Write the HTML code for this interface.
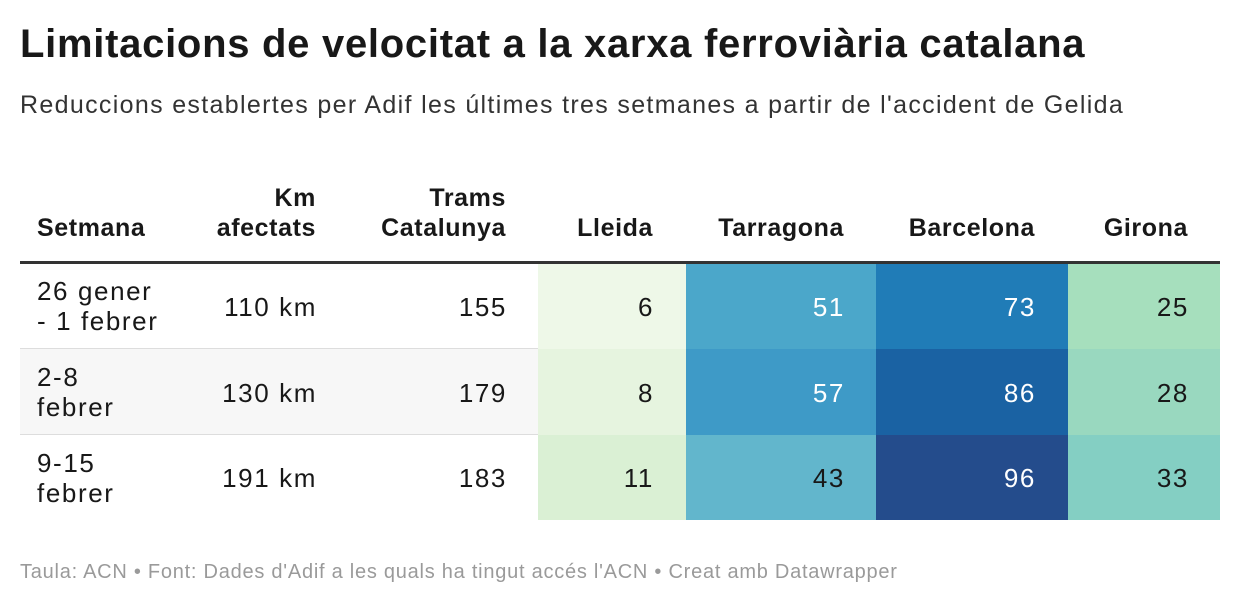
<!DOCTYPE html>
<html><head><meta charset="utf-8"><style>
body{margin:0;width:1240px;height:606px;background:#fff;font-family:"Liberation Sans",sans-serif;color:#181818;position:relative;overflow:hidden}
.t{position:absolute;left:20px;top:22px;font-size:40px;font-weight:bold;letter-spacing:0.72px;white-space:nowrap}
.s{position:absolute;left:20px;top:91px;font-size:25px;color:#333;letter-spacing:1.33px;white-space:nowrap}
.f{position:absolute;left:20px;top:561px;font-size:20px;color:#9a9a9a;letter-spacing:0.75px;white-space:nowrap}
.c{position:absolute;font-size:26px;line-height:30px;letter-spacing:1.6px;white-space:nowrap}
.h{position:absolute;font-size:25px;font-weight:bold;line-height:30px;letter-spacing:0.6px;white-space:nowrap}
.r{text-align:right}
.cell{position:absolute}
</style></head><body>
<div class="t">Limitacions de velocitat a la xarxa ferroviària catalana</div>
<div class="s">Reduccions establertes per Adif les últimes tres setmanes a partir de l'accident de Gelida</div>

<div class="h" style="left:37px;top:213px">Setmana</div>
<div class="h r" style="left:150px;width:166px;top:183px">Km<br>afectats</div>
<div class="h r" style="left:330px;width:176px;top:183px">Trams<br>Catalunya</div>
<div class="h r" style="left:540px;width:113px;top:213px">Lleida</div>
<div class="h r" style="left:686px;width:158px;top:213px">Tarragona</div>
<div class="h r" style="left:876px;width:159px;top:213px">Barcelona</div>
<div class="h r" style="left:1068px;width:120px;top:213px">Girona</div>
<div class="cell" style="left:20px;top:261px;width:1200px;height:3px;background:#333"></div>

<div class="cell" style="left:20px;top:349px;width:518px;height:86px;background:#f7f7f7"></div>
<div class="cell" style="left:20px;top:348px;width:518px;height:1px;background:#ddd"></div>
<div class="cell" style="left:20px;top:434px;width:518px;height:1px;background:#ddd"></div>

<div class="cell" style="left:538px;top:264px;width:148px;height:85px;background:#eef8e8"></div>
<div class="cell" style="left:538px;top:349px;width:148px;height:86px;background:#e6f4df"></div>
<div class="cell" style="left:538px;top:435px;width:148px;height:85px;background:#daf0d4"></div>
<div class="cell" style="left:686px;top:264px;width:190px;height:85px;background:#4ba7ca"></div>
<div class="cell" style="left:686px;top:349px;width:190px;height:86px;background:#3e9ac7"></div>
<div class="cell" style="left:686px;top:435px;width:190px;height:85px;background:#62b6cc"></div>
<div class="cell" style="left:876px;top:264px;width:192px;height:85px;background:#207cb7"></div>
<div class="cell" style="left:876px;top:349px;width:192px;height:86px;background:#1a62a3"></div>
<div class="cell" style="left:876px;top:435px;width:192px;height:85px;background:#244c8c"></div>
<div class="cell" style="left:1068px;top:264px;width:152px;height:85px;background:#a6dfbd"></div>
<div class="cell" style="left:1068px;top:349px;width:152px;height:86px;background:#99d8bf"></div>
<div class="cell" style="left:1068px;top:435px;width:152px;height:85px;background:#84cfc3"></div>

<div class="c" style="left:37px;top:276px">26 gener<br>- 1 febrer</div>
<div class="c" style="left:37px;top:362px">2-8<br>febrer</div>
<div class="c" style="left:37px;top:448px">9-15<br>febrer</div>

<div class="c r" style="left:150px;width:167px;top:292px">110 km</div>
<div class="c r" style="left:150px;width:167px;top:378px">130 km</div>
<div class="c r" style="left:150px;width:167px;top:463px">191 km</div>
<div class="c r" style="left:330px;width:177px;top:292px">155</div>
<div class="c r" style="left:330px;width:177px;top:378px">179</div>
<div class="c r" style="left:330px;width:177px;top:463px">183</div>
<div class="c r" style="left:540px;width:114px;top:292px">6</div>
<div class="c r" style="left:540px;width:114px;top:378px">8</div>
<div class="c r" style="left:540px;width:114px;top:463px">11</div>
<div class="c r" style="left:686px;width:159px;top:292px;color:#fff">51</div>
<div class="c r" style="left:686px;width:159px;top:378px;color:#fff">57</div>
<div class="c r" style="left:686px;width:159px;top:463px">43</div>
<div class="c r" style="left:876px;width:160px;top:292px;color:#fff">73</div>
<div class="c r" style="left:876px;width:160px;top:378px;color:#fff">86</div>
<div class="c r" style="left:876px;width:160px;top:463px;color:#fff">96</div>
<div class="c r" style="left:1068px;width:121px;top:292px">25</div>
<div class="c r" style="left:1068px;width:121px;top:378px">28</div>
<div class="c r" style="left:1068px;width:121px;top:463px">33</div>

<div class="f">Taula: ACN • Font: Dades d'Adif a les quals ha tingut accés l'ACN • Creat amb Datawrapper</div>
</body></html>
